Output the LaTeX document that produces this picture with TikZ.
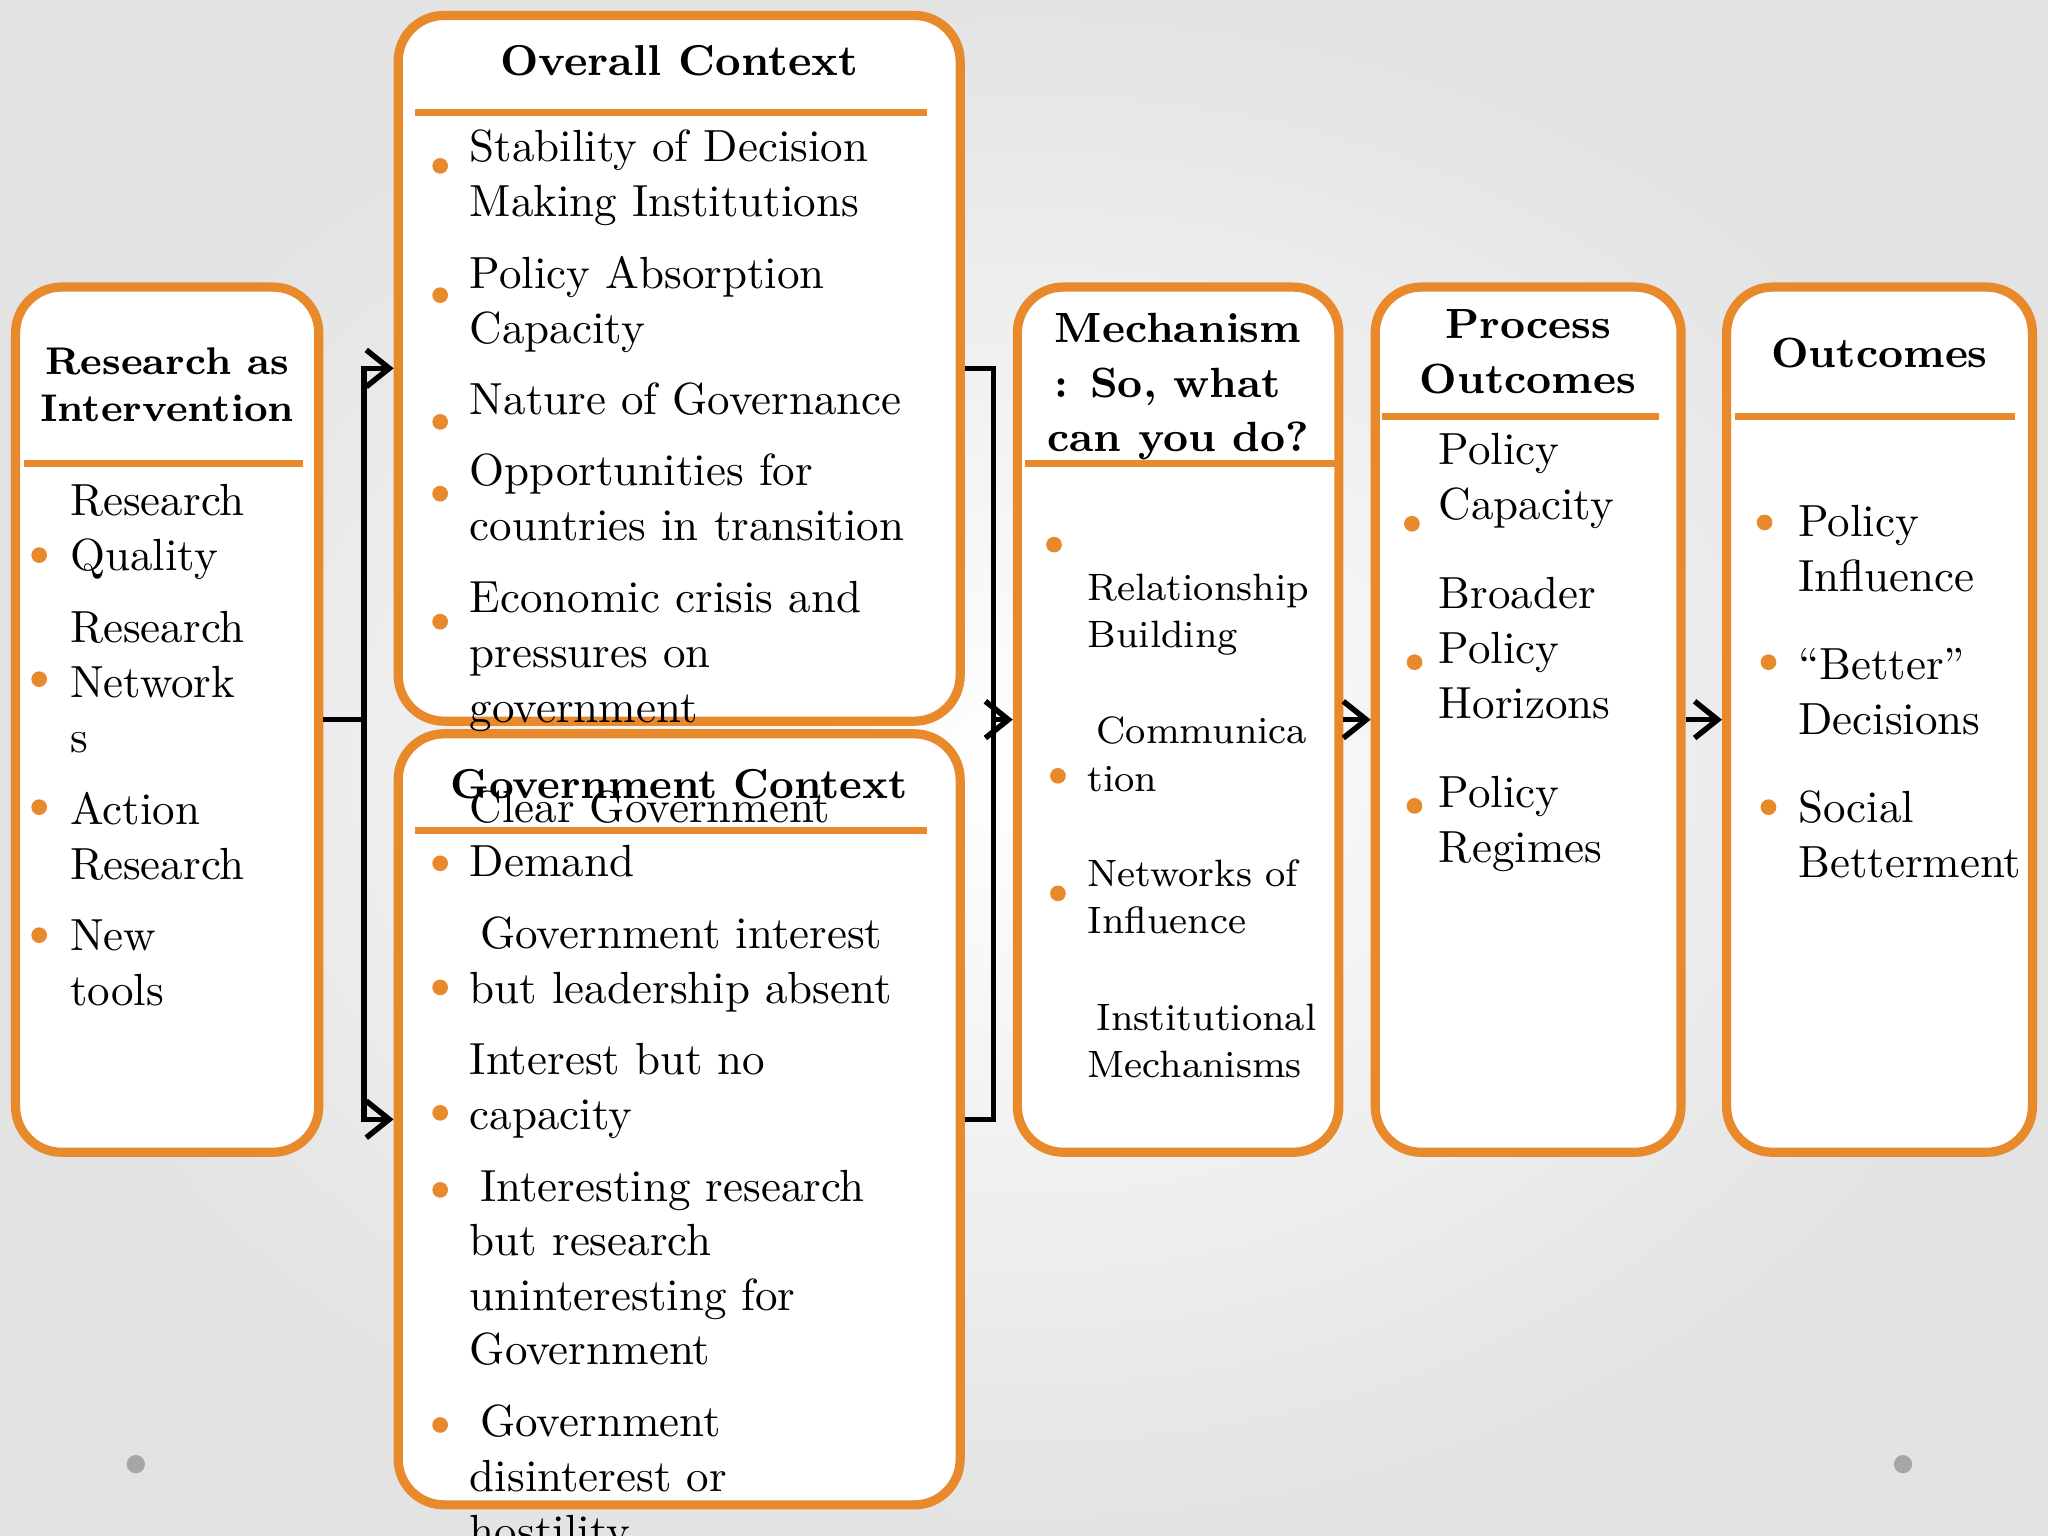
\documentclass[tikz,border=0pt]{standalone}
\usetikzlibrary{arrows.meta}
\definecolor{org}{HTML}{E8892C}
\newcommand{\bodyf}{\fontsize{9.8}{11}\selectfont}
\newcommand{\mechf}{\fontsize{8.3}{10}\selectfont}
\newcommand{\headf}{\fontsize{8.4}{11}\selectfont\bfseries}
\tikzset{
  box/.style={draw=org, line width=2pt, fill=white, rounded corners=0.35cm},
  divider/.style={draw=org, line width=1.4pt},
  txt/.style={anchor=base west, inner sep=0pt, font=\bodyf},
  mtxt/.style={anchor=base west, inner sep=0pt, font=\mechf},
  hd/.style={anchor=base, inner sep=0pt, font=\headf},
  conn/.style={draw=black, line width=1.2pt},
  arr/.style={conn, -{Straight Barb[length=5pt,width=8pt]}},
}
\newcommand{\bul}[2]{\fill[org] (#1,#2) circle (6);}
\newcommand{\tx}[3]{\node[txt] at (#1,#2) {#3};}
\newcommand{\mx}[3]{\node[mtxt] at (#1,#2) {#3};}
\newcommand{\hx}[3]{\node[hd] at (#1,#2) {#3};}
\begin{document}
\begin{tikzpicture}[x=0.01cm,y=-0.01cm]
\shade[inner color=white, outer color=gray!22] (0,0) rectangle (1568,1176);
\useasboundingbox (0,0) rectangle (1568,1176);
\fill[gray!70] (104,1121) circle (7);
\fill[gray!70] (1457,1121) circle (7);
% boxes
\node[box, minimum width=2.32cm, minimum height=6.62cm] (R) at (128,551) {};
\node[box, minimum width=4.30cm, minimum height=5.40cm] (OC) at (520,282) {};
\node[box, minimum width=4.30cm, minimum height=5.90cm] (GC) at (520,857) {};
\node[box, minimum width=2.46cm, minimum height=6.62cm] (M) at (902,551) {};
\node[box, minimum width=2.34cm, minimum height=6.62cm] (P) at (1170,551) {};
\node[box, minimum width=2.34cm, minimum height=6.62cm] (O) at (1439,551) {};
% dividers
\draw[divider] (18,355) -- (232,355);
\draw[divider] (318,86) -- (710,86);
\draw[divider] (318,636) -- (710,636);
\draw[divider] (785,355) -- (1028,355);
\draw[divider] (1058,319) -- (1270,319);
\draw[divider] (1328,319) -- (1543,319);
% connectors
\draw[conn] (R.east) -- ++(31,0) coordinate (j1);
\draw[arr] (j1) |- (OC.west);
\draw[arr] (j1) |- (GC.west);
\draw[conn] (OC.east) -- ++(22,0) coordinate (j2) |- (GC.east);
\coordinate (j3) at (j2 |- M.west);
\draw[arr] (j3) -- (M.west);
\draw[arr] (M.east) -- (P.west);
\draw[arr] (P.east) -- (O.west);
% Research
\hx{128}{287}{Research as}
\hx{128}{323}{Intervention}
\tx{53}{395}{Research}\tx{53}{437}{Quality}\bul{30}{425}
\tx{53}{492}{Research}\tx{53}{534}{Network}\tx{53}{576}{s}\bul{30}{520}
\tx{53}{631}{Action}\tx{53}{673}{Research}\bul{30}{618}
\tx{53}{728}{New}\tx{53}{770}{tools}\bul{30}{716}
% Overall
\node[hd, font=\fontsize{9.4}{12}\selectfont\bfseries] at (520,58) {Overall Context};
\tx{359}{124}{Stability of Decision}\tx{359}{166}{Making Institutions}\bul{337}{127}
\tx{359}{221}{Policy Absorption}\tx{359}{263}{Capacity}\bul{337}{226}
\tx{359}{317}{Nature of Governance}\bul{337}{323}
\tx{359}{372}{Opportunities for}\tx{359}{414}{countries in transition}\bul{337}{378}
\tx{359}{469}{Economic crisis and}\tx{359}{511}{pressures on}\tx{359}{553}{government}\bul{337}{476}
% Government
\node[hd, font=\fontsize{9.1}{12}\selectfont\bfseries] at (520,611) {Government Context};
\tx{359}{630}{Clear Government}\tx{359}{671}{Demand}\bul{337}{661}
\tx{367}{726}{Government interest}\tx{359}{768}{but leadership absent}\bul{337}{756}
\tx{359}{823}{Interest but no}\tx{359}{865}{capacity}\bul{337}{852}
\tx{367}{920}{Interesting research}\tx{359}{961}{but research}\tx{359}{1003}{uninteresting for}\tx{359}{1045}{Government}\bul{337}{911}
\tx{367}{1100}{Government}\tx{359}{1142}{disinterest or}\tx{359}{1184}{hostility}\bul{337}{1091}
% Mechanism
\node[hd, font=\fontsize{9.2}{12}\selectfont\bfseries] at (902,262) {Mechanism};
\node[hd, font=\fontsize{9.2}{12}\selectfont\bfseries] at (894,304) {: So, what};
\node[hd, font=\fontsize{9.2}{12}\selectfont\bfseries] at (902,346) {can you do?};
\bul{807}{417}
\mx{832}{460}{Relationship}\mx{832}{496}{Building}
\mx{839}{569}{Communica}\mx{832}{606}{tion}\bul{810}{594}
\mx{832}{679}{Networks of}\mx{832}{715}{Influence}\bul{810}{684}
\mx{839}{789}{Institutional}\mx{832}{825}{Mechanisms}
% Process
\node[hd, font=\fontsize{9.2}{12}\selectfont\bfseries] at (1170,259) {Process};
\node[hd, font=\fontsize{9.2}{12}\selectfont\bfseries] at (1170,301) {Outcomes};
\tx{1101}{356}{Policy}\tx{1101}{398}{Capacity}\bul{1081}{401}
\tx{1101}{466}{Broader}\tx{1101}{508}{Policy}\tx{1101}{550}{Horizons}\bul{1083}{507}
\tx{1101}{618}{Policy}\tx{1101}{660}{Regimes}\bul{1083}{617}
% Outcomes
\node[hd, font=\fontsize{9.2}{12}\selectfont\bfseries] at (1439,281) {Outcomes};
\tx{1376}{411}{Policy}\tx{1376}{453}{Influence}\bul{1351}{400}
\tx{1376}{520}{``Better''}\tx{1376}{562}{Decisions}\bul{1354}{507}
\tx{1376}{630}{Social}\tx{1376}{672}{Betterment}\bul{1354}{618}
\end{tikzpicture}
\end{document}
